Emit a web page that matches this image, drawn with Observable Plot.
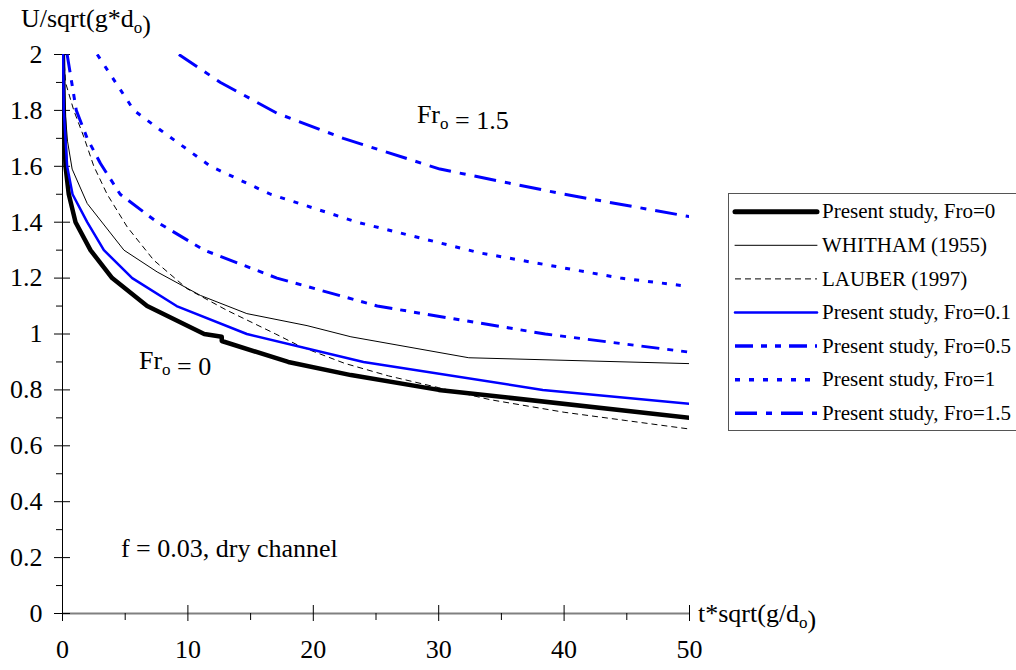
<!DOCTYPE html>
<html><head><meta charset="utf-8">
<script src="https://cdn.jsdelivr.net/npm/d3@7"></script>
<script src="https://cdn.jsdelivr.net/npm/@observablehq/plot@0.6"></script>
<style>
body{margin:0;background:#fff}
svg, svg text{font-family:"Liberation Serif","Times New Roman",serif}
</style>
</head><body><div id="chart"></div>
<script>
// ---- data (t*sqrt(g/do), U/sqrt(g*do)) ----
const fr0 = [[0.03,2.0],[0.1,1.8],[0.24,1.6],[0.5,1.5],[1.04,1.4],[2.23,1.3],[3.96,1.2],[6.75,1.1],[11.3,1.0],[12.7,0.99],[12.7,0.975],[18,0.9],[23,0.853],[30,0.8],[50,0.7]];
const whitham = [[0.05,2.0],[0.2,1.8],[0.4,1.69],[0.77,1.59],[1.97,1.467],[4.9,1.3],[7.55,1.222],[11,1.138],[14.7,1.073],[19.5,1.03],[23,0.99],[32.4,0.915],[50,0.894]];
const lauber = [[0.1,2.0],[0.24,1.9],[0.9,1.8],[1.7,1.705],[2.5,1.6],[3.56,1.5],[5.16,1.383],[7.28,1.264],[9.94,1.162],[13.1,1.085],[17,1.0],[19,0.955],[22.5,0.895],[26,0.85],[30,0.808],[34.1,0.765],[40,0.72],[45,0.69],[50,0.66]];
const fr01 = [[0.05,2.0],[0.1,1.8],[0.37,1.6],[0.8,1.5],[1.97,1.4],[3.3,1.3],[5.56,1.2],[9.1,1.1],[14.7,1.0],[24,0.9],[38.3,0.8],[50,0.75]];
const fr05 = [[0.37,2.0],[1.1,1.8],[1.97,1.7],[3.03,1.61],[4.6,1.5],[7.55,1.4],[11.3,1.3],[17.1,1.2],[25.1,1.1],[38.5,1.0],[50,0.935]];
const fr1 = [[2.77,2.0],[5.7,1.8],[7.8,1.73],[11.8,1.6],[16.6,1.5],[23.5,1.4],[33.3,1.29],[44.5,1.2],[50,1.17]];
const fr15 = [[9.28,2.0],[12.6,1.9],[17.1,1.79],[22.4,1.7],[30.1,1.59],[40,1.5],[50,1.42]];

const seriesNames = ["Present study, Fro=0","WHITHAM (1955)","LAUBER (1997)","Present study, Fro=0.1","Present study, Fro=0.5","Present study, Fro=1","Present study, Fro=1.5"];
const seriesData = [fr0, whitham, lauber, fr01, fr05, fr1, fr15];

const yMajor = [0,0.2,0.4,0.6,0.8,1,1.2,1.4,1.6,1.8,2];
const yMinor = [0.1,0.3,0.5,0.7,0.9,1.1,1.3,1.5,1.7,1.9];
const xMajor = [0,10,20,30,40,50];
const xMinor = [5,15,25,35,45];

// ---- styles ----
const FONT = "'Liberation Serif', 'Times New Roman', serif";
const BLUE = "#0000ff";
const styles = [
  {stroke:"black", width:4.5, dash:null, lwidth:5},
  {stroke:"black", width:1, dash:null, lwidth:1},
  {stroke:"black", width:1, dash:"6,4", lwidth:1},
  {stroke:BLUE, width:2.5, dash:null, lwidth:2.5},
  {stroke:BLUE, width:3, dash:"18,8,6,8,6,8", lwidth:3.5},
  {stroke:BLUE, width:3, dash:"5,9", lwidth:3.5},
  {stroke:BLUE, width:3, dash:"22,9,6,9", lwidth:3.5}
];

const lineMarks = seriesData.map((d,i) => Plot.line(d, {
  stroke: styles[i].stroke, strokeWidth: styles[i].width,
  strokeDasharray: styles[i].dash || undefined,
  strokeLinecap: styles[i].dash ? "butt" : "round",
  strokeLinejoin: "round", clip: true
}));

const plot = Plot.plot({
  width: 1016, height: 670,
  marginLeft: 62, marginRight: 327, marginTop: 54, marginBottom: 57,
  x: {domain:[0,50]}, y: {domain:[0,2]},
  style: {fontFamily: FONT, fontSize:"26px", color:"black", background:"white", overflow:"visible"},
  marks: [
    Plot.ruleY([0], {stroke:"#808080", strokeWidth:2}),
    Plot.ruleX([0], {stroke:"black", strokeWidth:1}),
    Plot.ruleY(yMajor, {x1:0, x2:0, insetLeft:-8, insetRight:-8, stroke:"black"}),
    Plot.ruleY(yMinor, {x1:0, x2:0, insetLeft:-6, insetRight:0, stroke:"black"}),
    Plot.ruleX(xMajor, {y1:0, y2:0, insetTop:-8, insetBottom:-8, stroke:"black"}),
    Plot.ruleX(xMinor, {y1:0, y2:0, insetTop:0, insetBottom:-7, stroke:"black"}),
    Plot.axisY({ticks: yMajor, tickSize:0, tickPadding:20, label:null, tickFormat: d => String(+d.toFixed(1))}),
    Plot.axisX({ticks: xMajor, tickSize:0, tickPadding:26, label:null, tickFormat: d => String(d)}),
    ...lineMarks
  ]
});
document.getElementById("chart").appendChild(plot);

const sx = plot.scale("x"), sy = plot.scale("y");
const svg = d3.select(plot);

function richText(x, y, parts, size) {
  const t = svg.append("text").attr("x", x).attr("y", y)
    .attr("font-size", size).attr("font-family", FONT).attr("fill", "black").attr("text-anchor", "start");
  parts.forEach(p => {
    if (p.sub) {
      t.append("tspan").attr("font-size", Math.round(size*0.65)).attr("dy", size*0.22).text(p.sub);
      t.append("tspan").attr("dy", -size*0.22).text("");
    } else t.append("tspan").text(p.t);
  });
}

// axis titles
richText(21, 27, [{t:"U/sqrt(g*d"},{sub:"o"},{t:")"}], 26);
richText(sx.apply(50) + 9, sy.apply(0) + 9, [{t:"t*sqrt(g/d"},{sub:"o"},{t:")"}], 26);

// annotations
const notes = [
  {x:6.14, y:0.873, parts:[{t:"Fr"},{sub:"o"},{t:" = 0"}]},
  {x:28.3, y:1.752, parts:[{t:"Fr"},{sub:"o"},{t:" = 1.5"}]},
  {x:4.7, y:0.2, parts:[{t:"f = 0.03, dry channel"}]}
];
notes.forEach(n => richText(sx.apply(n.x), sy.apply(n.y), n.parts, 26));

// legend
const lg = svg.append("g");
lg.append("rect").attr("x", 728.5).attr("y", 193.5).attr("width", 330).attr("height", 237)
  .attr("fill", "white").attr("stroke", "#555").attr("stroke-width", 1);
seriesNames.forEach((name, i) => {
  const cy = 211.7 + i*33.6;
  const s = styles[i];
  lg.append("line").attr("x1", 735).attr("x2", 817).attr("y1", cy).attr("y2", cy)
    .attr("stroke", s.stroke).attr("stroke-width", s.lwidth)
    .attr("stroke-dasharray", s.dash || null)
    .attr("stroke-linecap", s.dash ? "butt" : "round");
  lg.append("text").attr("x", 822).attr("y", cy).attr("dy", "0.32em")
    .attr("text-anchor", "start").attr("font-family", FONT)
    .attr("font-size", 21).attr("fill", "black").text(name);
});
</script>
</body></html>
